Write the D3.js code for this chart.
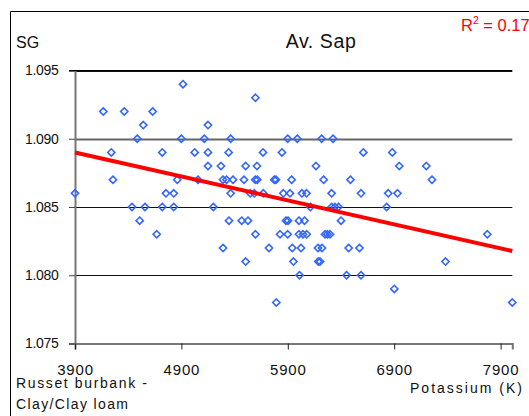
<!DOCTYPE html>
<html>
<head>
<meta charset="utf-8">
<script src="https://cdn.jsdelivr.net/npm/d3@7/dist/d3.min.js"></script>
<style>
  html, body { margin: 0; padding: 0; background: #fff; }
  svg { display: block; font-family: "Liberation Sans", Arial, sans-serif; }
</style>
</head>
<body>
<svg id="chart" width="529" height="416"></svg>
<script>
// Potassium (K) readings and the matching specific gravity (SG) of each sample
const potassium = [
  4915,
  5596,
  4166, 4363, 4630,
  4542, 5150,
  4485, 4899, 5115, 5363, 5899, 5989, 6218, 6325,
  4241, 4720, 5025, 5150, 5344, 5667, 5845, 6610, 6882,
  5150, 5272, 5504, 5610, 6165, 6948, 7202,
  4257, 4861, 5056, 5291, 5324, 5385, 5488, 5594, 5613, 5773, 5789, 5936, 6237, 6489, 7255,
  3900, 4755, 4828, 5363, 5547, 5585, 5670, 5858, 5921, 6033, 6076, 6312, 6588, 6844, 6931,
  4436, 4558, 4720, 4828, 5200, 6113, 6312, 6343, 6376, 6829,
  4508, 5347, 5467, 5526, 5883, 5902, 6005, 6057, 6400,
  4668, 5596, 5827, 5899, 6005, 6043, 6078, 6250, 6273, 6297, 7775,
  5291, 5723, 5942, 6024, 6184, 6221, 6472, 6574,
  5504, 5953, 6187, 6203, 7382,
  6010, 6452, 6588,
  6901,
  5792, 8010
];
const sg = [
  1.094,
  1.093,
  1.092, 1.092, 1.092,
  1.091, 1.091,
  1.090, 1.090, 1.090, 1.090, 1.090, 1.090, 1.090, 1.090,
  1.089, 1.089, 1.089, 1.089, 1.089, 1.089, 1.089, 1.089, 1.089,
  1.088, 1.088, 1.088, 1.088, 1.088, 1.088, 1.088,
  1.087, 1.087, 1.087, 1.087, 1.087, 1.087, 1.087, 1.087, 1.087, 1.087, 1.087, 1.087, 1.087, 1.087, 1.087,
  1.086, 1.086, 1.086, 1.086, 1.086, 1.086, 1.086, 1.086, 1.086, 1.086, 1.086, 1.086, 1.086, 1.086, 1.086,
  1.085, 1.085, 1.085, 1.085, 1.085, 1.085, 1.085, 1.085, 1.085, 1.085,
  1.084, 1.084, 1.084, 1.084, 1.084, 1.084, 1.084, 1.084, 1.084,
  1.083, 1.083, 1.083, 1.083, 1.083, 1.083, 1.083, 1.083, 1.083, 1.083, 1.083,
  1.082, 1.082, 1.082, 1.082, 1.082, 1.082, 1.082, 1.082,
  1.081, 1.081, 1.081, 1.081, 1.081,
  1.080, 1.080, 1.080,
  1.079,
  1.078, 1.078
];
const xTicks = [3900, 4900, 5900, 6900, 7900];
const yTicks = [1.075, 1.080, 1.085, 1.090, 1.095];
const rSquaredLabel = "0.17";

const svg = d3.select("#chart");
const W = 529, H = 416;

const x = d3.scaleLinear().domain([3900, 8010]).range([75, 512.3]);
const y = d3.scaleLinear().domain([1.075, 1.095]).range([343.5, 70.5]);

// outer frame (continues past the right and bottom edges)
svg.append("path")
  .attr("d", `M10.5,${H} V11.5 H${W}`)
  .attr("fill", "none").attr("stroke", "#000").attr("stroke-width", 1);

// horizontal gridlines
svg.append("g").selectAll("line")
  .data(yTicks.filter(v => v > 1.075))
  .join("line")
  .attr("x1", 75).attr("x2", 512.3)
  .attr("y1", d => Math.round(y(d)) + 0.5).attr("y2", d => Math.round(y(d)) + 0.5)
  .attr("stroke", d => Math.abs(d - 1.090) < 1e-9 ? "#666" : "#111")
  .attr("stroke-width", d => Math.abs(d - 1.090) < 1e-9 ? 2 : 1);

// y axis
const yAxis = d3.axisLeft(y).tickValues(yTicks).tickSize(6).tickPadding(10.5)
  .tickFormat(d3.format(".3f"));
const gy = svg.append("g").attr("transform", "translate(75,0)").call(yAxis);
gy.select(".domain").attr("stroke", "#777").attr("stroke-width", 2);
gy.selectAll(".tick line").attr("stroke", "#444");
gy.selectAll(".tick text").attr("font-size", 14).attr("fill", "#111")
  .attr("font-family", "'Liberation Sans', Arial, sans-serif").attr("letter-spacing", "-0.3px");

// x axis
const xAxis = d3.axisBottom(x).tickValues(xTicks).tickSize(6).tickPadding(15)
  .tickFormat(d3.format("d"));
const gx = svg.append("g").attr("transform", "translate(0,343.5)").call(xAxis);
gx.select(".domain").attr("stroke", "#777").attr("stroke-width", 2);
gx.selectAll(".tick line").attr("stroke", "#222");
gx.selectAll(".tick text").attr("font-size", 15).attr("fill", "#111")
  .attr("font-family", "'Liberation Sans', Arial, sans-serif").attr("letter-spacing", "0.8px");

// least-squares trend line of SG against K
const n = potassium.length;
const mx = d3.mean(potassium), my = d3.mean(sg);
let sxy = 0, sxx = 0;
for (let i = 0; i < n; i++) {
  sxy += (potassium[i] - mx) * (sg[i] - my);
  sxx += (potassium[i] - mx) ** 2;
}
const slope = sxy / sxx, intercept = my - slope * mx;
const [kMin, kMax] = d3.extent(potassium);

// sample markers: hollow diamonds
const diamond = "M0,-3.6L3.6,0L0,3.6L-3.6,0Z";
svg.append("g").selectAll("path")
  .data(d3.range(n))
  .join("path")
  .attr("d", diamond)
  .attr("transform", i => `translate(${x(potassium[i])},${y(sg[i])})`)
  .attr("fill", "none").attr("stroke", "#3366ff").attr("stroke-width", 1.6);

svg.append("line")
  .attr("x1", x(kMin)).attr("y1", y(intercept + slope * kMin))
  .attr("x2", x(kMax)).attr("y2", y(intercept + slope * kMax))
  .attr("stroke", "#ff0000").attr("stroke-width", 4);

// top border of the plot area
svg.append("line")
  .attr("x1", 69).attr("x2", 512.3).attr("y1", 70.5).attr("y2", 70.5)
  .attr("stroke", "#000").attr("stroke-width", 1);

// titles and labels
svg.append("text").attr("x", 321).attr("y", 47.7).attr("text-anchor", "middle")
  .attr("font-size", 19.5).attr("letter-spacing", "0.6px").attr("fill", "#111").text("Av. Sap");
svg.append("text").attr("x", 16).attr("y", 47.7)
  .attr("font-size", 16).attr("fill", "#111").text("SG");

const r2 = svg.append("text").attr("x", 461).attr("y", 30.7)
  .attr("font-size", 16.5).attr("fill", "#ff0000");
r2.append("tspan").text("R");
r2.append("tspan").attr("font-size", 10.5).attr("dy", -6.5).text("2");
r2.append("tspan").attr("dy", 6.5).text(" = " + rSquaredLabel);

svg.append("text").attr("x", 16).attr("y", 388.3)
  .attr("font-size", 14).attr("fill", "#111")
  .attr("textLength", 131).attr("lengthAdjust", "spacing").text("Russet burbank -");
svg.append("text").attr("x", 16).attr("y", 409.3)
  .attr("font-size", 14).attr("fill", "#111")
  .attr("textLength", 112).attr("lengthAdjust", "spacing").text("Clay/Clay loam");
svg.append("text").attr("x", 410).attr("y", 392.5)
  .attr("font-size", 14).attr("fill", "#111")
  .attr("textLength", 112).attr("lengthAdjust", "spacing").text("Potassium (K)");
</script>
</body>
</html>
